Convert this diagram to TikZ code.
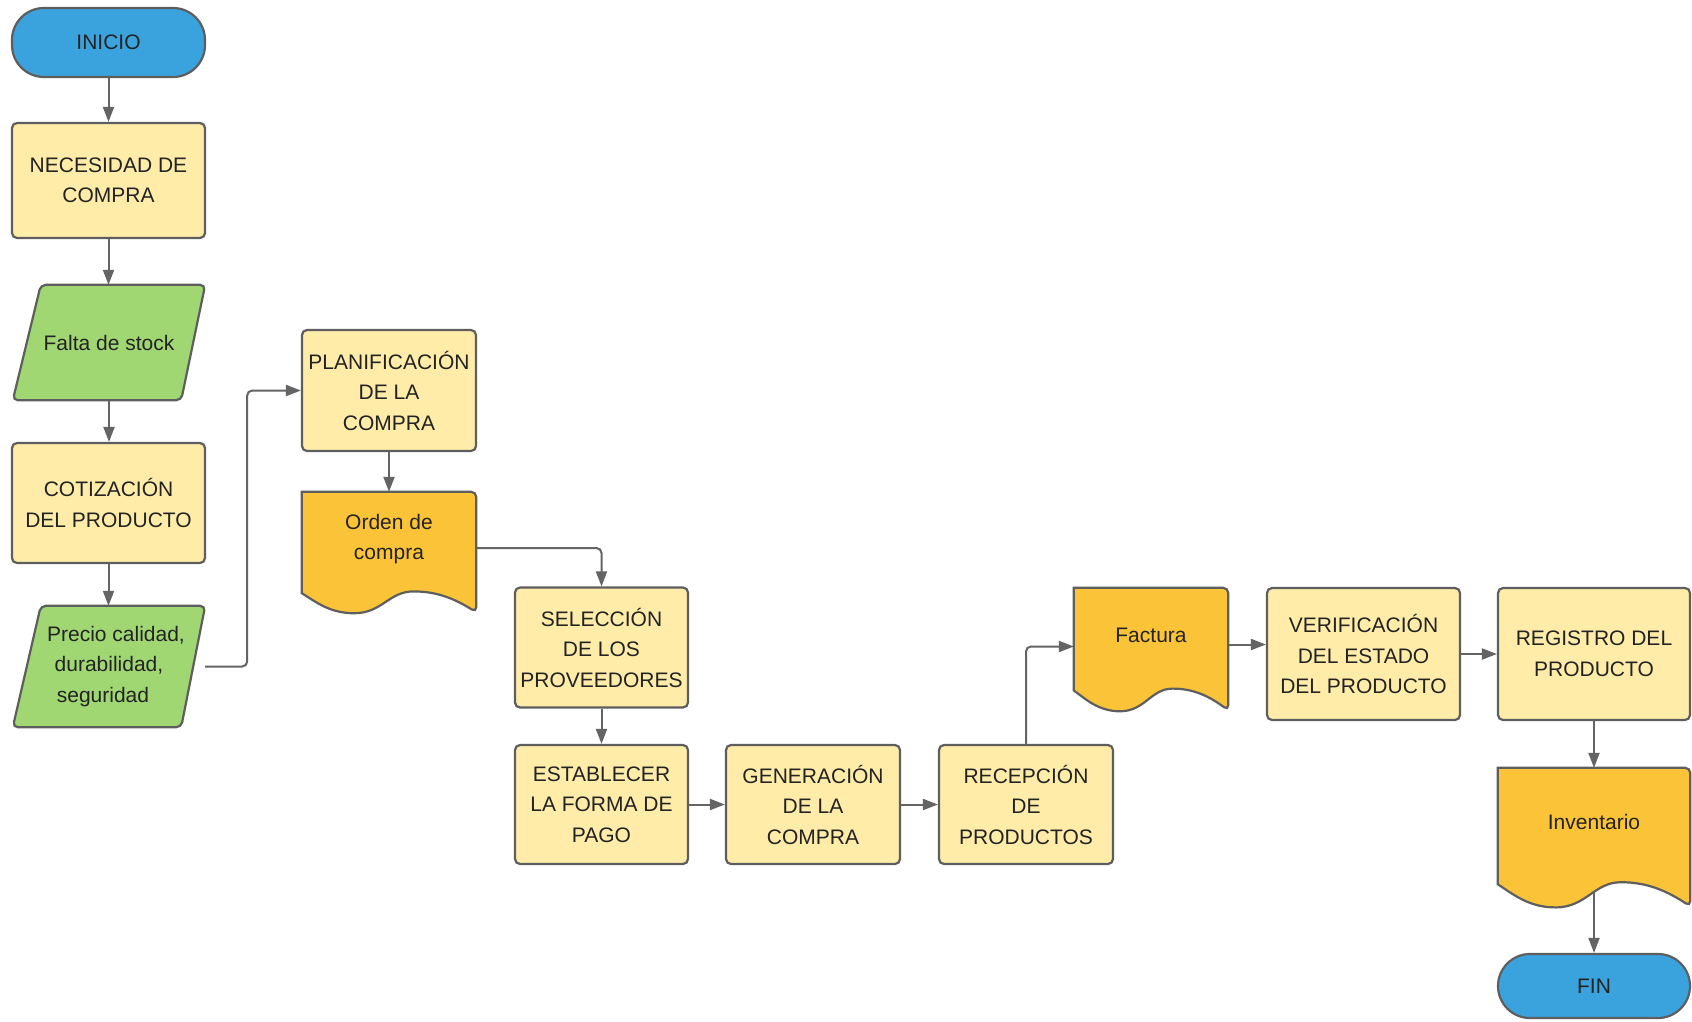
\documentclass[tikz,border=0pt]{standalone}
\usepackage{fontspec}
\setmainfont{Liberation Sans}
\usetikzlibrary{arrows.meta,calc}
\pgfdeclarelayer{paper}
\pgfdeclarelayer{lines}
\pgfdeclarelayer{shapes}
\pgfsetlayers{paper,lines,shapes,main}

\definecolor{sky}{RGB}{58,163,221}
\definecolor{pale}{RGB}{255,236,169}
\definecolor{gold}{RGB}{251,196,56}
\definecolor{leaf}{RGB}{160,215,115}
\definecolor{edge}{RGB}{94,94,94}
\definecolor{wire}{RGB}{100,100,100}
\definecolor{ink}{RGB}{35,35,35}

\tikzset{
  label font/.style={font=\fontsize{21}{30.5}\selectfont, text=ink, align=center},
  shapeline/.style={draw=edge, line width=2.2pt},
  proc/.style={shapeline, fill=pale, rounded corners=5pt, inner sep=0pt, label font},
  term/.style={shapeline, fill=sky, rounded corners=32pt, inner sep=0pt, label font},
  body/.style={inner sep=0pt, label font},
  conn/.style={draw=wire, line width=2pt, rounded corners=5pt,
               -{Triangle[length=15pt,width=11pt]}},
}

% document outline around body node #1, with a wavy lower edge #2 deep
\newcommand\docshape[2]{%
  \path[shapeline, fill=gold, rounded corners=5pt]
    let \p1=(#1.south west), \p2=(#1.north east), \n1={\x2-\x1} in
    (#1.north west) -- (#1.north east) -- (\x2,{\y1-#2})
    [sharp corners]
    .. controls ({\x1+0.88*\n1},{\y1-0.5*#2}) and ({\x1+0.78*\n1},{\y1-0.2*#2})
    .. ({\x1+0.64*\n1},{\y1-0.2*#2})
    .. controls ({\x1+0.5*\n1},{\y1-0.2*#2}) and ({\x1+0.46*\n1},{\y1-1.04*#2})
    .. ({\x1+0.3*\n1},{\y1-1.04*#2})
    .. controls ({\x1+0.16*\n1},{\y1-1.04*#2}) and ({\x1+0.08*\n1},{\y1-0.6*#2})
    .. (\x1,{\y1-0.27*#2}) -- cycle;
}
% slanted data shape around body node #1
\newcommand\slantshape[1]{%
  \path[shapeline, fill=leaf, rounded corners=5pt]
    (#1.south west) -- ([xshift=28pt]#1.north west) -- (#1.north east)
    -- ([xshift=-24pt]#1.south east) -- cycle;
}

\begin{document}
\begin{tikzpicture}[x=1pt, y=-1pt]
\begin{pgfonlayer}{paper}
  \fill[white] (0,0) rectangle (1692,1021);
\end{pgfonlayer}
\useasboundingbox (0,0) rectangle (1692,1021);

% left column
\node[term, minimum width=193pt, minimum height=69pt]  (ini) at (108.5,42.5) {INICIO};
\node[proc, minimum width=193pt, minimum height=115pt] (nec) at (108.5,180.5) {NECESIDAD DE\\COMPRA};
\node[body, minimum width=192pt, minimum height=115pt] (fal) at (109,342.5) {Falta de stock};
\node[proc, minimum width=193pt, minimum height=120pt] (cot) at (108.5,503) {COTIZACIÓN\\DEL PRODUCTO};
\node[body, minimum width=192pt, minimum height=121pt] (pre) at (109,666.5)
  {\hspace*{14pt}Precio calidad,\\durabilidad,\\seguridad\hspace*{12pt}};

% planning
\node[proc, minimum width=174pt, minimum height=121pt] (pla) at (389,390.5) {PLANIFICACIÓN\\DE LA\\COMPRA};
\node[body, minimum width=174pt, minimum height=94pt]  (ord) at (389,539) {Orden de\\compra};

% purchase row
\node[proc, minimum width=173pt, minimum height=120pt] (sel) at (601.5,647.5) {SELECCIÓN\\DE LOS\\PROVEEDORES};
\node[proc, minimum width=173pt, minimum height=119pt] (est) at (601.5,804.5) {ESTABLECER\\LA FORMA DE\\PAGO};
\node[proc, minimum width=174pt, minimum height=119pt] (gen) at (813,804.5) {GENERACIÓN\\DE LA\\COMPRA};
\node[proc, minimum width=174pt, minimum height=119pt] (rec) at (1026,804.5) {RECEPCIÓN\\DE\\PRODUCTOS};

% reception and registration
\node[body, minimum width=154pt, minimum height=95pt]  (fac) at (1151,635.5) {Factura};
\node[proc, minimum width=193pt, minimum height=132pt] (ver) at (1363.5,654) {VERIFICACIÓN\\DEL ESTADO\\DEL PRODUCTO};
\node[proc, minimum width=192pt, minimum height=132pt] (reg) at (1594,654) {REGISTRO DEL\\PRODUCTO};
\node[body, minimum width=192pt, minimum height=108pt] (inv) at (1594,822) {Inventario};
\node[term, minimum width=192pt, minimum height=64pt]  (fin) at (1594,986) {FIN};

% outlines of the data and document shapes
\begin{pgfonlayer}{shapes}
  \slantshape{fal}
  \slantshape{pre}
  \docshape{ord}{26pt}
  \docshape{fac}{27pt}
  \docshape{inv}{30pt}
\end{pgfonlayer}

% connectors
\begin{pgfonlayer}{lines}
  \draw[conn] (ini.south) -- (nec.north);
  \draw[conn] (nec.south) -- (nec.south |- fal.north);
  \draw[conn] (fal.south) -- (fal.south |- cot.north);
  \draw[conn] (cot.south) -- (cot.south |- pre.north);
  \draw[conn] (pre.east) -- ++(42,0) |- (pla.west);
  \draw[conn] (pla.south) -- (ord.north);
  \draw[conn] ([yshift=-9pt]ord.east) -| (sel.north);
  \draw[conn] (sel.south) -- (est.north);
  \draw[conn] (est.east) -- (gen.west);
  \draw[conn] (gen.east) -- (rec.west);
  \draw[conn] (rec.north) |- ([yshift=-11pt]fac.west);
  \draw[conn] ([yshift=-9pt]fac.east) -- ([yshift=-9pt]fac.east -| ver.west);
  \draw[conn] (ver.east) -- (reg.west);
  \draw[conn] (reg.south) -- (inv.north);
  \draw[conn] (inv.south) -- (inv.south |- fin.north);
\end{pgfonlayer}
\end{tikzpicture}
\end{document}
